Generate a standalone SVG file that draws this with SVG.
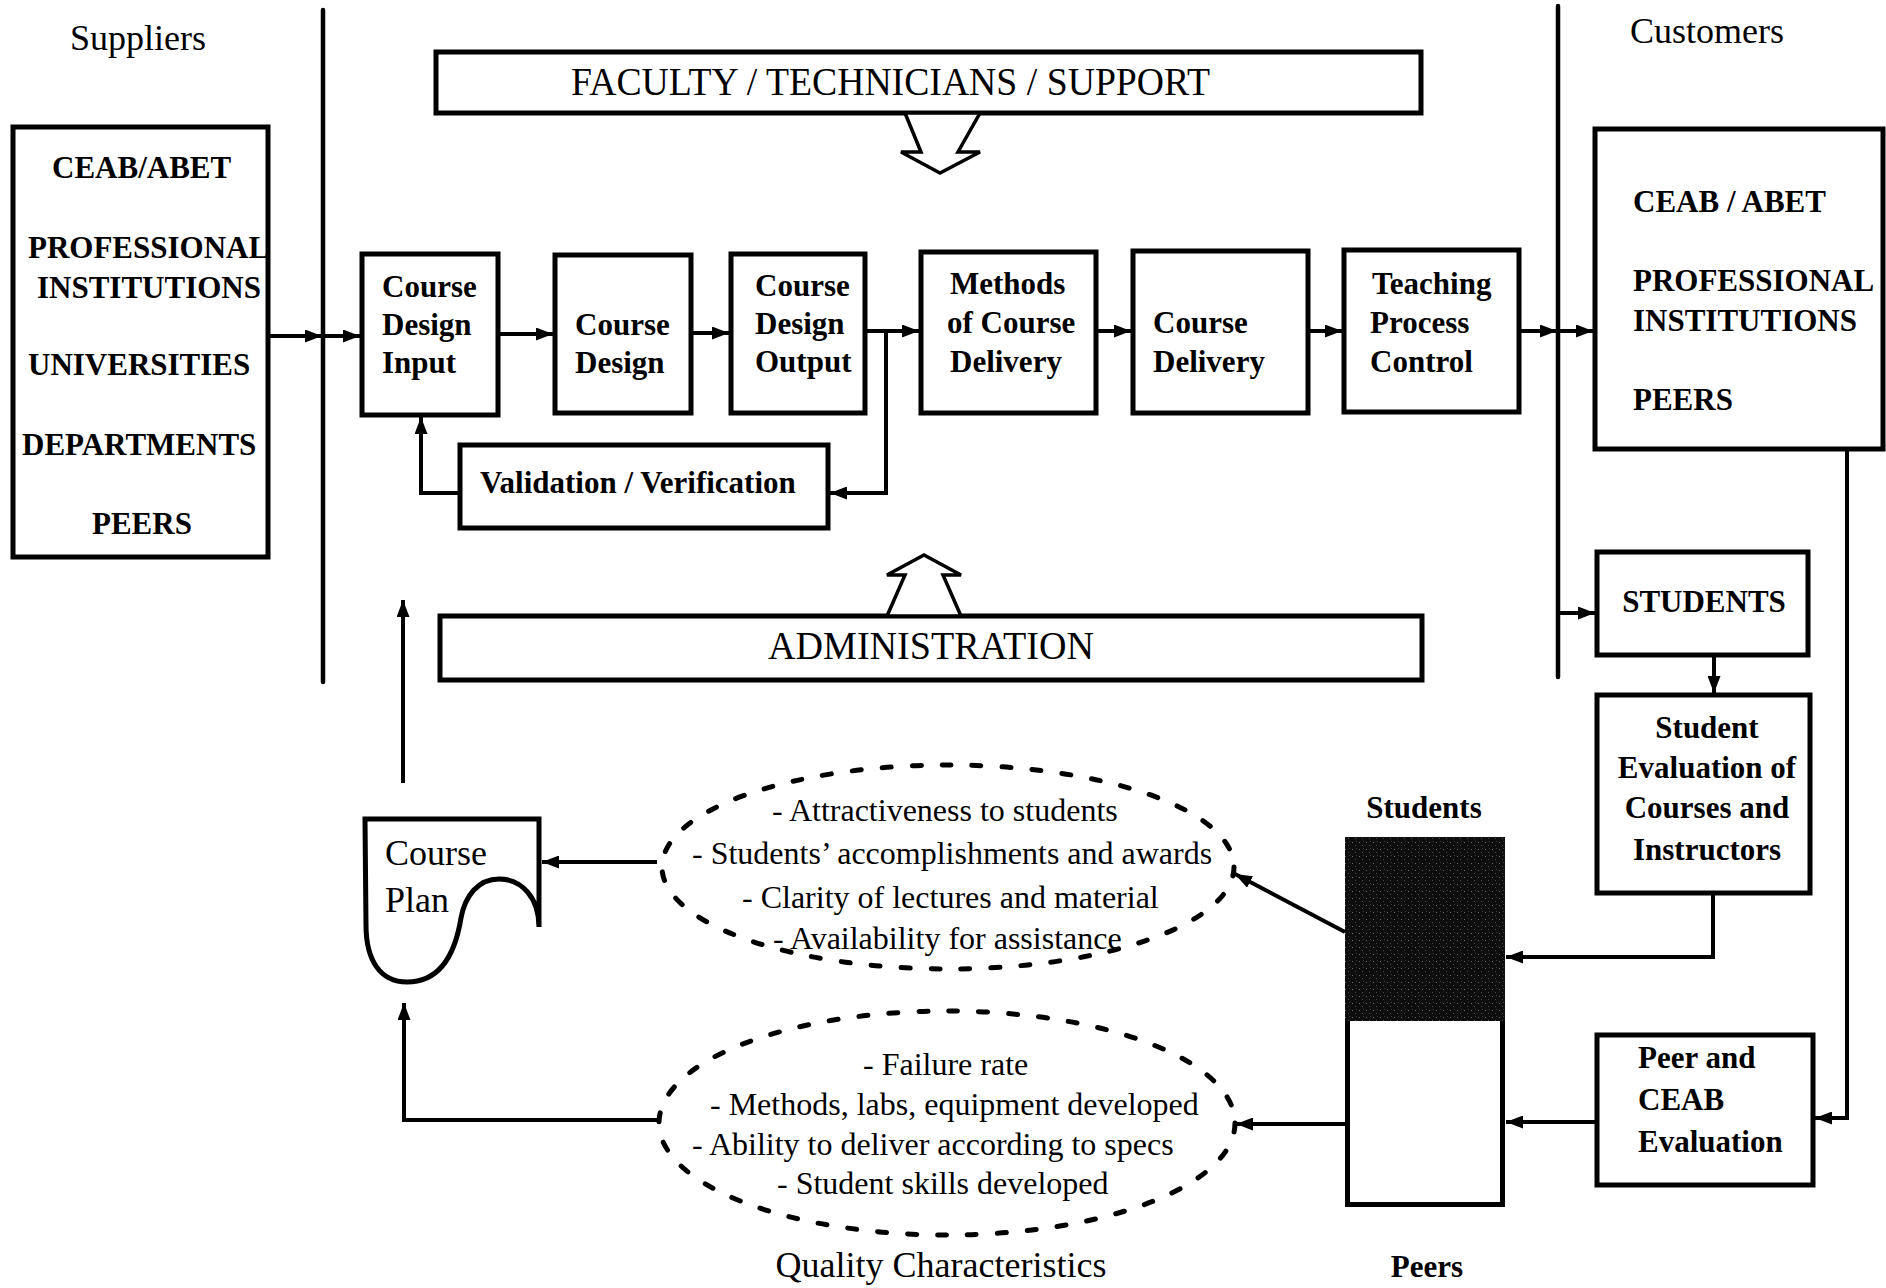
<svg xmlns="http://www.w3.org/2000/svg" width="1886" height="1288" viewBox="0 0 1886 1288">
  <style>
    .box { fill: #fff; stroke: #000; stroke-width: 5; }
    .line { fill: none; stroke: #000; stroke-width: 4; }
    .arr { marker-end: url(#ah); }
    .sep { fill: none; stroke: #000; stroke-width: 4.5; stroke-linecap: round; }
    .hollow { fill: #fff; stroke: #000; stroke-width: 3.5; stroke-linejoin: miter; }
    .dash { fill: none; stroke: #000; stroke-width: 5; stroke-dasharray: 9 21; stroke-linecap: round; }
    .serif { font-family: "Liberation Serif", "Times New Roman", serif; fill: #000; }
    .b { font-weight: bold; font-size: 31px; }
    .r { font-size: 32px; }
    .head { font-size: 36px; }
    .banner { font-size: 40px; }
  </style>
  <defs>
    <marker id="ah" viewBox="0 0 17 13" refX="17" refY="6.5" markerWidth="17" markerHeight="13" markerUnits="userSpaceOnUse" orient="auto">
      <path d="M0,0 L17,6.5 L0,13 Z" fill="#000"/>
    </marker>
    <pattern id="stipple" width="7" height="7" patternUnits="userSpaceOnUse">
      <rect width="7" height="7" fill="#0e0e0e"/>
      <rect x="1" y="2" width="1" height="1" fill="#6a6a6a"/>
      <rect x="4" y="5" width="1" height="1" fill="#4a4a4a"/>
      <rect x="5" y="1" width="1" height="1" fill="#3a3a3a"/>
    </pattern>
  </defs>

  <rect width="1886" height="1288" fill="#fff"/>

  <!-- column headings and separators -->
  <g id="suppliers-heading">
    <text class="serif head" x="138" y="50" text-anchor="middle">Suppliers</text>
  </g>
  <g id="customers-heading">
    <text class="serif head" x="1630" y="43">Customers</text>
  </g>
  <g id="separators">
    <path class="sep" d="M323,10 V682"/>
    <path class="sep" d="M1558,6 V677"/>
  </g>

  <!-- suppliers -->
  <g id="suppliers">
    <rect class="box" x="13" y="127" width="255" height="430"/>
    <text class="serif b" x="52" y="178" font-size="30.5">CEAB/ABET</text>
    <text class="serif b" x="28" y="258" font-size="30.5">PROFESSIONAL</text>
    <text class="serif b" x="37" y="298" font-size="30.5">INSTITUTIONS</text>
    <text class="serif b" x="28" y="375" font-size="30.5">UNIVERSITIES</text>
    <text class="serif b" x="22" y="455" font-size="30.5">DEPARTMENTS</text>
    <text class="serif b" x="92" y="534" font-size="30.5">PEERS</text>
  </g>

  <!-- customers -->
  <g id="customers">
    <rect class="box" x="1595" y="129" width="288" height="320"/>
    <text class="serif b" x="1633" y="212" font-size="30.5">CEAB / ABET</text>
    <text class="serif b" x="1633" y="291" font-size="30.5">PROFESSIONAL</text>
    <text class="serif b" x="1633" y="331" font-size="30.5">INSTITUTIONS</text>
    <text class="serif b" x="1633" y="410" font-size="30.5">PEERS</text>
  </g>

  <!-- resource banners with hollow arrows -->
  <g id="faculty">
    <rect class="box" x="436" y="52" width="985" height="61"/>
    <text class="serif banner" x="571" y="95" textLength="639" lengthAdjust="spacingAndGlyphs">FACULTY / TECHNICIANS / SUPPORT</text>
    <polygon class="hollow" points="905,113 921,152 901,152 940,173 980,152 958,152 980,113"/>
  </g>
  <g id="administration">
    <rect class="box" x="440" y="616" width="982" height="64"/>
    <text class="serif banner" x="768" y="659" textLength="326" lengthAdjust="spacingAndGlyphs">ADMINISTRATION</text>
    <polygon class="hollow" points="887,616 905,575 887,575 924,555 961,575 943,575 961,616"/>
  </g>

  <!-- teaching process chain -->
  <g id="course-design-input">
    <rect class="box" x="362" y="254" width="136" height="161"/>
    <text class="serif b" x="382" y="297">Course</text>
    <text class="serif b" x="382" y="335">Design</text>
    <text class="serif b" x="382" y="373">Input</text>
  </g>
  <g id="course-design">
    <rect class="box" x="555" y="255" width="136" height="158"/>
    <text class="serif b" x="575" y="335">Course</text>
    <text class="serif b" x="575" y="373">Design</text>
  </g>
  <g id="course-design-output">
    <rect class="box" x="731" y="254" width="134" height="159"/>
    <text class="serif b" x="755" y="296">Course</text>
    <text class="serif b" x="755" y="334">Design</text>
    <text class="serif b" x="755" y="372">Output</text>
  </g>
  <g id="methods-of-delivery">
    <rect class="box" x="921" y="252" width="175" height="161"/>
    <text class="serif b" x="950" y="294">Methods</text>
    <text class="serif b" x="947" y="333">of Course</text>
    <text class="serif b" x="950" y="372">Delivery</text>
  </g>
  <g id="course-delivery">
    <rect class="box" x="1133" y="251" width="175" height="162"/>
    <text class="serif b" x="1153" y="333">Course</text>
    <text class="serif b" x="1153" y="372">Delivery</text>
  </g>
  <g id="process-control">
    <rect class="box" x="1344" y="250" width="175" height="162"/>
    <text class="serif b" x="1372" y="294">Teaching</text>
    <text class="serif b" x="1370" y="333">Process</text>
    <text class="serif b" x="1370" y="372">Control</text>
  </g>
  <g id="validation">
    <rect class="box" x="460" y="445" width="368" height="83"/>
    <text class="serif b" x="480" y="493" font-size="32">Validation / Verification</text>
  </g>

  <!-- customer-side evaluation -->
  <g id="students">
    <rect class="box" x="1597" y="552" width="211" height="103"/>
    <text class="serif b" x="1704" y="612" text-anchor="middle">STUDENTS</text>
  </g>
  <g id="student-evaluation">
    <rect class="box" x="1597" y="695" width="213" height="198"/>
    <text class="serif b" x="1707" y="738" text-anchor="middle">Student</text>
    <text class="serif b" x="1707" y="778" text-anchor="middle">Evaluation of</text>
    <text class="serif b" x="1707" y="818" text-anchor="middle">Courses and</text>
    <text class="serif b" x="1707" y="860" text-anchor="middle">Instructors</text>
  </g>
  <g id="peer-evaluation">
    <rect class="box" x="1597" y="1035" width="216" height="150"/>
    <text class="serif b" x="1638" y="1068">Peer and</text>
    <text class="serif b" x="1638" y="1110">CEAB</text>
    <text class="serif b" x="1638" y="1152">Evaluation</text>
  </g>

  <!-- feedback bar: students (shaded) over peers -->
  <g id="feedback-bar">
    <rect class="box" x="1347.5" y="839.5" width="155" height="365"/>
    <rect x="1345" y="837" width="160" height="184" fill="url(#stipple)"/>
    <text class="serif b" x="1424" y="818" text-anchor="middle">Students</text>
    <text class="serif b" x="1427" y="1277" text-anchor="middle">Peers</text>
  </g>

  <!-- quality characteristics -->
  <g id="quality-students">
    <ellipse class="dash" cx="948" cy="867" rx="286" ry="102"/>
    <text class="serif r" x="772" y="821">- Attractiveness to students</text>
    <text class="serif r" x="692" y="864">- Students’ accomplishments and awards</text>
    <text class="serif r" x="742" y="908">- Clarity of lectures and material</text>
    <text class="serif r" x="773" y="949">- Availability for assistance</text>
  </g>
  <g id="quality-peers">
    <ellipse class="dash" cx="947" cy="1123" rx="288" ry="112"/>
    <text class="serif r" x="863" y="1075">- Failure rate</text>
    <text class="serif r" x="710" y="1115">- Methods, labs, equipment developed</text>
    <text class="serif r" x="692" y="1155">- Ability to deliver according to specs</text>
    <text class="serif r" x="777" y="1194">- Student skills developed</text>
  </g>
  <g id="quality-label">
    <text class="serif head" x="941" y="1277" text-anchor="middle" font-size="35.5">Quality Characteristics</text>
  </g>

  <!-- course plan document -->
  <g id="course-plan">
    <path class="box" d="M365,819 H539 V927 C539,898 522,879 499,879 C478,879 465,896 461,918 C455,955 440,982 407,982 C380,982 366,960 366,925 Z"/>
    <text class="serif head" x="385" y="865">Course</text>
    <text class="serif head" x="385" y="912">Plan</text>
  </g>

  <!-- connectors -->
  <g id="connectors">
    <path class="line arr" d="M268,336 H322"/>
    <path class="line arr" d="M324,336 H360"/>
    <path class="line arr" d="M498,334 H553"/>
    <path class="line arr" d="M691,333 H729"/>
    <path class="line arr" d="M865,331 H919"/>
    <path class="line arr" d="M886,331 V493 H830"/>
    <path class="line arr" d="M460,493 H421 V417"/>
    <path class="line arr" d="M1096,331 H1131"/>
    <path class="line arr" d="M1308,331 H1342"/>
    <path class="line arr" d="M1519,331 H1557"/>
    <path class="line arr" d="M1559,331 H1593"/>
    <path class="line arr" d="M1558,613 H1595"/>
    <path class="line arr" d="M1714,655 V693"/>
    <path class="line arr" d="M1713,893 V957 H1506"/>
    <path class="line arr" d="M1847,449 V1118 H1815"/>
    <path class="line arr" d="M1597,1122 H1506"/>
    <path class="line arr" d="M1345,932 L1235,874"/>
    <path class="line arr" d="M1345,1124 H1236"/>
    <path class="line arr" d="M657,862 H542"/>
    <path class="line arr" d="M657,1120 H404 V1003"/>
    <path class="line arr" d="M403,783 V600"/>
  </g>
</svg>
